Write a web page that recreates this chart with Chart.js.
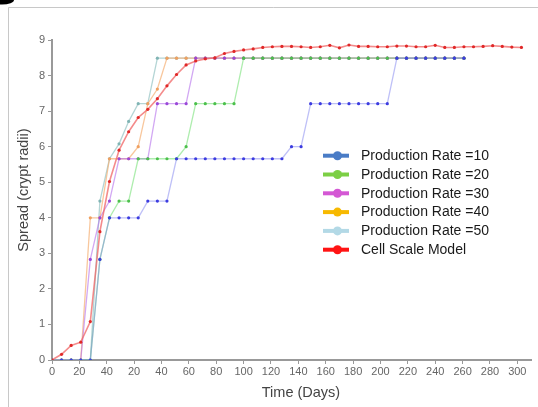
<!DOCTYPE html>
<html>
<head>
<meta charset="utf-8">
<script src="https://cdn.jsdelivr.net/npm/chart.js@4.4.0/dist/chart.umd.min.js"></script>
<style>
  html, body { margin: 0; padding: 0; background: #fff; }
</style>
</head>
<body>
<canvas id="grafica" width="538" height="407"></canvas>
<script>
// dias de muestreo (semanal)
var dias = [0, 7, 14, 21, 28, 35, 42, 49, 56, 63, 70, 77, 84, 91, 98, 105, 112, 119, 126, 133,
  140, 147, 154, 161, 168, 175, 182, 189, 196, 203, 210, 217, 224, 231, 238, 245, 252, 259, 266, 273,
  280, 287, 294, 301, 308, 315, 322, 329, 336, 343];

var tasa10 = [0, 0, 0, 0, 0, 2.83, 4, 4, 4, 4, 4.47, 4.47, 4.47,
  5.66, 5.66, 5.66, 5.66, 5.66, 5.66, 5.66, 5.66, 5.66, 5.66, 5.66, 5.66,
  6, 6, 7.21, 7.21, 7.21, 7.21, 7.21, 7.21, 7.21, 7.21, 7.21,
  8.49, 8.49, 8.49, 8.49, 8.49, 8.49, 8.49, 8.49];
var tasa20 = [0, 0, 0, 0, 0, 2.83, 4, 4.47, 4.47, 5.66, 5.66, 5.66, 5.66, 5.66, 6,
  7.21, 7.21, 7.21, 7.21, 7.21,
  8.49, 8.49, 8.49, 8.49, 8.49, 8.49, 8.49, 8.49, 8.49, 8.49, 8.49, 8.49,
  8.49, 8.49, 8.49, 8.49, 8.49, 8.49, 8.49, 8.49, 8.49, 8.49, 8.49, 8.49];
var tasa30 = [0, 0, 0, 0, 2.83, 4, 4.47, 5.66, 5.66, 5.66, 5.66, 7.21, 7.21, 7.21, 7.21,
  8.49, 8.49, 8.49, 8.49, 8.49, 8.49, 8.49, 8.49, 8.49, 8.49, 8.49, 8.49, 8.49, 8.49,
  8.49, 8.49, 8.49, 8.49, 8.49, 8.49, 8.49, 8.49, 8.49, 8.49, 8.49, 8.49, 8.49, 8.49, 8.49];
var tasa40 = [0, 0, 0, 0, 4, 4, 5.66, 5.66, 5.66, 6, 7.21, 7.62,
  8.49, 8.49, 8.49, 8.49, 8.49, 8.49, 8.49, 8.49, 8.49, 8.49, 8.49, 8.49, 8.49, 8.49,
  8.49, 8.49, 8.49, 8.49, 8.49, 8.49, 8.49, 8.49, 8.49, 8.49, 8.49, 8.49, 8.49, 8.49,
  8.49, 8.49, 8.49, 8.49];
var tasa50 = [0, 0, 0, 0, 0, 4.47, 5.66, 6.08, 6.71, 7.21, 7.21,
  8.49, 8.49, 8.49, 8.49, 8.49, 8.49, 8.49, 8.49, 8.49, 8.49, 8.49, 8.49, 8.49, 8.49,
  8.49, 8.49, 8.49, 8.49, 8.49, 8.49, 8.49, 8.49, 8.49, 8.49, 8.49, 8.49, 8.49, 8.49,
  8.49, 8.49, 8.49, 8.49, 8.49];
var celular = [0, 0.16, 0.41, 0.5, 1.08, 3.61, 5.02, 5.9, 6.42, 6.82, 7.05, 7.35, 7.71, 8.03,
  8.3, 8.41, 8.47, 8.5, 8.62, 8.68, 8.72, 8.75,
  8.79, 8.81, 8.82, 8.82, 8.81, 8.79, 8.81, 8.85, 8.78, 8.86, 8.82, 8.82, 8.81, 8.81,
  8.83, 8.83, 8.81, 8.81, 8.85, 8.79, 8.79, 8.81, 8.81, 8.82, 8.84, 8.82, 8.80, 8.79];

var nombres = ["Production Rate =10", "Production Rate =20", "Production Rate =30",
  "Production Rate =40", "Production Rate =50", "Cell Scale Model"];
var yTicks = [0, 1, 2, 3, 4, 5, 6, 7, 8, 9];
var xTickLabels = ["0", "20", "40", "20", "40", "60", "80", "100", "120", "140", "160",
  "180", "200", "220", "240", "260", "280", "300"];

var colorLinea = ["rgba(125,130,240,0.5)", "rgba(120,225,120,0.6)", "rgba(180,110,235,0.6)",
  "rgba(245,175,115,0.7)", "rgba(130,185,185,0.6)", "rgba(240,100,100,0.75)"];
var colorPunto = ["#3c3ce0", "#4cc04c", "#9a48d8", "#f0a060", "#80b4b4", "#e02828"];
var colorLeyenda = ["#4a7cc6", "#7ccf45", "#d458d4", "#f7b900", "#b3d9e6", "#ff1414"];

function puntos(serie) {
  return serie.map(function (v, i) { return { x: dias[i], y: v }; });
}

var series = [tasa10, tasa20, tasa30, tasa40, tasa50, celular];
var datasets = series.map(function (s, i) {
  return {
    label: nombres[i],
    data: puntos(s),
    borderColor: colorLinea[i],
    backgroundColor: colorPunto[i],
    pointBackgroundColor: colorPunto[i],
    pointBorderWidth: 0,
    pointRadius: 1.6,
    borderWidth: i == 5 ? 1.6 : 1.3,
    tension: 0,
    order: i == 5 ? -1 : 0
  };
});

// marco, leyenda y titulos
var extras = {
  id: "extras",
  beforeDraw: function (chart) {
    var ctx = chart.ctx;
    ctx.save();
    ctx.fillStyle = "#fff";
    ctx.fillRect(0, 0, chart.width, chart.height);
    ctx.strokeStyle = "#c8c8c8";
    ctx.lineWidth = 1;
    ctx.beginPath();
    ctx.moveTo(8.5, 407);
    ctx.lineTo(8.5, 7.5);
    ctx.lineTo(538, 7.5);
    ctx.stroke();
    ctx.fillStyle = "#000";
    ctx.beginPath();
    ctx.ellipse(2, 0, 12, 4.5, 0, 0, Math.PI * 2);
    ctx.fill();
    ctx.restore();
  },
  afterDraw: function (chart) {
    var ctx = chart.ctx;
    ctx.save();
    ctx.textBaseline = "middle";
    nombres.forEach(function (n, i) {
      var y = 155.7 + i * 18.8;
      ctx.strokeStyle = colorLeyenda[i];
      ctx.lineWidth = 4;
      ctx.beginPath();
      ctx.moveTo(323, y);
      ctx.lineTo(349, y);
      ctx.stroke();
      ctx.fillStyle = colorLeyenda[i];
      ctx.beginPath();
      ctx.arc(337.5, y, 4.5, 0, Math.PI * 2);
      ctx.fill();
      ctx.fillStyle = "#1a1a1a";
      ctx.font = "14px 'Liberation Sans', Arial, sans-serif";
      ctx.fillText(n, 361, y + 0.5);
    });
    ctx.fillStyle = "#444";
    ctx.font = "14.5px 'Liberation Sans', Arial, sans-serif";
    ctx.textAlign = "center";
    ctx.fillText("Time (Days)", 301, 392.5);
    ctx.translate(24, 190);
    ctx.rotate(-Math.PI / 2);
    ctx.fillText("Spread (crypt radii)", 0, 0);
    ctx.restore();
  }
};

var grafica = document.getElementById("grafica").getContext("2d");

var chart = new Chart(grafica, {
  type: "line",
  data: { datasets: datasets },
  plugins: [extras],
  options: {
    responsive: false,
    animation: false,
    layout: { padding: { top: 40, right: 7, left: 0, bottom: 0 } },
    plugins: { legend: { display: false }, tooltip: { enabled: false } },
    scales: {
      x: {
        type: "linear",
        min: 0,
        max: 350,
        afterBuildTicks: function (axis) {
          axis.ticks = xTickLabels.map(function (l, i) { return { value: i * 20 }; });
        },
        afterFit: function (axis) { axis.height = 47; },
        ticks: {
          autoSkip: false,
          maxRotation: 0,
          padding: 1,
          color: "#666",
          font: { family: "'Liberation Sans', Arial, sans-serif", size: 11 },
          callback: function (v, i) { return xTickLabels[i]; }
        },
        grid: { drawOnChartArea: false, drawTicks: true, tickLength: 4, color: "#999" },
        border: { display: true, color: "#999", width: 2 }
      },
      y: {
        min: 0,
        max: 9,
        afterBuildTicks: function (axis) {
          axis.ticks = yTicks.map(function (t) { return { value: t }; });
        },
        afterFit: function (axis) { axis.width = 52; },
        ticks: {
          padding: 3,
          color: "#666",
          font: { family: "'Liberation Sans', Arial, sans-serif", size: 11 }
        },
        grid: { drawOnChartArea: false, drawTicks: true, tickLength: 4, color: "#999" },
        border: { display: true, color: "#999", width: 2 }
      }
    }
  }
});
</script>
</body>
</html>
